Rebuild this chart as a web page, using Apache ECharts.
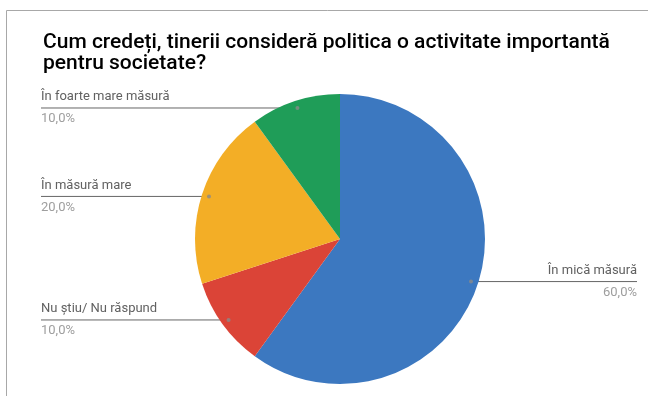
<!DOCTYPE html>
<html>
<head>
<meta charset="utf-8">
<script src="https://cdn.jsdelivr.net/npm/echarts@6/dist/echarts.min.js"></script>
<style>
html,body{margin:0;padding:0;background:#fff;}
#chart{width:648px;height:396px;}
</style>
</head>
<body>
<div id="chart"></div>
<script>
const titleText = 'Cum credeți, tinerii consideră politica o activitate importantă pentru societate?';
const categories = ['În mică măsură', 'Nu știu/ Nu răspund', 'În măsură mare', 'În foarte mare măsură'];
const values = [60, 10, 20, 10];
const percentLabels = ['60,0%', '10,0%', '20,0%', '10,0%'];
const colors = ['#3c78c0', '#db4437', '#f3ae26', '#1f9d58'];

const CENTER = [340, 239];
const RADIUS = 145;
const ANCHOR_RATIO = 0.95;
const LEFT_X = 41;
const RIGHT_X = 637;

const total = values.reduce((a, b) => a + b, 0);
let acc = 0;
const dotData = values.map(v => {
  const mid = acc + v / 2;
  acc += v;
  return [ANCHOR_RATIO, mid / total * 100];
});

const chart = echarts.init(document.getElementById('chart'), null, {renderer: 'canvas'});
const pieData = categories.map((c, i) => ({name: c, value: values[i], pct: percentLabels[i]}));

chart.setOption({
  animation: false,
  backgroundColor: '#ffffff',
  title: {
    text: titleText,
    left: 43,
    top: 32,
    padding: 0,
    textStyle: {
      fontFamily: 'Roboto',
      fontSize: 21,
      fontWeight: 500,
      color: '#000000',
      lineHeight: 21,
      width: 625,
      overflow: 'break'
    }
  },
  graphic: [{
    type: 'polyline',
    silent: true,
    shape: {points: [[6.5, 396], [6.5, 10.5], [648, 10.5]]},
    style: {stroke: '#a8a8a8', lineWidth: 1, fill: null}
  }],
  polar: {center: CENTER, radius: RADIUS},
  angleAxis: {type: 'value', min: 0, max: 100, startAngle: 90, clockwise: true, show: false},
  radiusAxis: {type: 'value', min: 0, max: 1, show: false},
  series: [
    {
      type: 'pie',
      center: CENTER,
      radius: RADIUS,
      startAngle: 90,
      clockwise: true,
      silent: true,
      data: pieData,
      color: colors,
      label: {show: false},
      labelLine: {show: false},
      itemStyle: {borderWidth: 0}
    },
    {
      type: 'pie',
      center: CENTER,
      radius: RADIUS * ANCHOR_RATIO,
      startAngle: 90,
      clockwise: true,
      silent: true,
      data: pieData,
      itemStyle: {color: 'rgba(0,0,0,0)', borderWidth: 0},
      label: {
        show: true,
        position: 'outer',
        formatter: p => '{n|' + p.name + '}\n{p|' + p.data.pct + '}',
        rich: {
          n: {fontFamily: 'Roboto', fontSize: 13, color: '#616161', lineHeight: 22},
          p: {fontFamily: 'Roboto', fontSize: 13, color: '#9e9e9e', lineHeight: 22}
        }
      },
      labelLine: {show: true, length: 0, length2: 0, lineStyle: {color: '#666666', width: 1}},
      labelLayout: function (params) {
        const pts = params.labelLinePoints;
        const start = pts[0];
        const isLeft = start[0] < CENTER[0];
        const ex = isLeft ? LEFT_X : RIGHT_X;
        return {
          x: ex,
          y: start[1],
          align: isLeft ? 'left' : 'right',
          verticalAlign: 'middle',
          labelLinePoints: [[start[0], start[1]], [start[0], start[1]], [ex, start[1]]]
        };
      }
    },
    {
      type: 'scatter',
      coordinateSystem: 'polar',
      silent: true,
      symbol: 'circle',
      symbolSize: 4,
      itemStyle: {color: '#8a8a8a'},
      data: dotData,
      z: 5
    }
  ]
});
</script>
</body>
</html>
